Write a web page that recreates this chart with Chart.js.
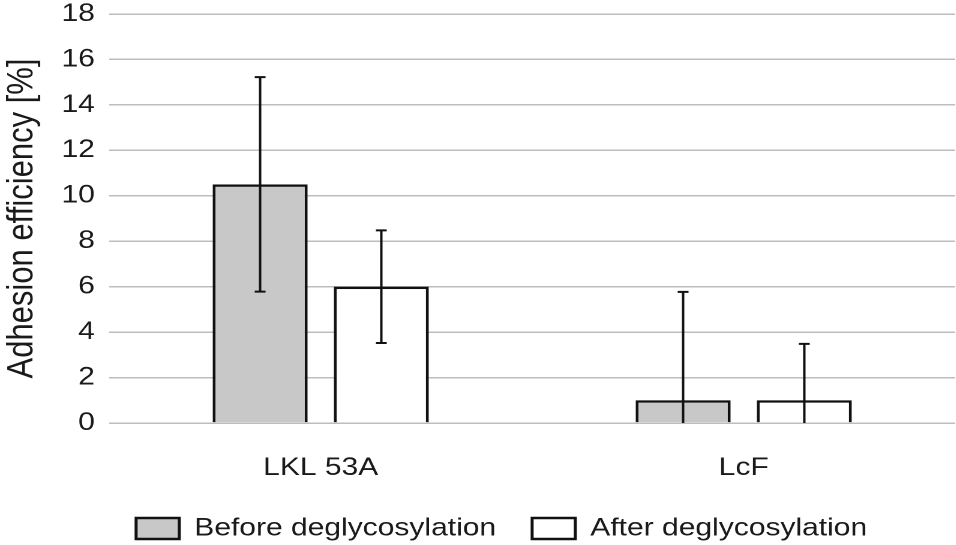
<!DOCTYPE html>
<html>
<head>
<meta charset="utf-8">
<script src="https://cdn.jsdelivr.net/npm/chart.js@4.4.1/dist/chart.umd.min.js"></script>
<style>
  html, body { margin: 0; padding: 0; background: #fff; overflow: hidden; }
  /* the reference is stretched horizontally, so draw narrower and scale up */
  #wrap { width: 797px; height: 545px; transform: scaleX(1.2); transform-origin: 0 0; }
</style>
</head>
<body>
<div id="wrap"><canvas id="chart"></canvas></div>
<script>
// Dados
const categorias = ['LKL 53A', 'LcF'];
const antes = [10.5, 1.0];
const antesErro = [4.72, 4.77];
const depois = [6.0, 1.0];
const depoisErro = [2.48, 2.48];
const ticksY = [0, 2, 4, 6, 8, 10, 12, 14, 16, 18];

const corTexto = '#1a1a1a';
const corGrade = '#bdbdbd';

/**
 * Desenha as barras de erro (desvio padrão) sobre cada barra
 */
const errorBarsPlugin = {
  id: 'errorBars',
  afterDatasetsDraw(chart) {
    const ctx = chart.ctx;
    const y = chart.scales.y;
    chart.data.datasets.forEach((ds, i) => {
      const meta = chart.getDatasetMeta(i);
      meta.data.forEach((bar, j) => {
        const v = ds.data[j];
        const e = ds.erros[j];
        const yTop = y.getPixelForValue(v + e);
        const low = Math.max(0, v - e);
        const yBot = y.getPixelForValue(low);
        ctx.save();
        ctx.strokeStyle = '#111';
        ctx.lineWidth = 2;
        ctx.beginPath();
        ctx.moveTo(bar.x, yTop);
        ctx.lineTo(bar.x, yBot);
        ctx.moveTo(bar.x - 4.5, yTop);
        ctx.lineTo(bar.x + 4.5, yTop);
        if (low > 0) {
          ctx.moveTo(bar.x - 4.5, yBot);
          ctx.lineTo(bar.x + 4.5, yBot);
        }
        ctx.stroke();
        ctx.restore();
      });
    });
  }
};

// Legenda um pouco deslocada para a direita, como no original
const legendShift = {
  id: 'legendShift',
  afterLayout(chart) {
    chart.legend.left += 20;
    chart.legend.right += 20;
  }
};

const ctx = document.getElementById('chart').getContext('2d');
new Chart(ctx, {
  type: 'bar',
  data: {
    labels: categorias,
    datasets: [{
      label: 'Before deglycosylation',
      data: antes,
      erros: antesErro,
      backgroundColor: '#c8c8c8',
      borderColor: '#111',
      borderWidth: 2.5,
      categoryPercentage: 0.573,
      barPercentage: 0.784
    }, {
      label: 'After deglycosylation',
      data: depois,
      erros: depoisErro,
      backgroundColor: '#ffffff',
      borderColor: '#111',
      borderWidth: 2.5,
      categoryPercentage: 0.573,
      barPercentage: 0.784
    }]
  },
  options: {
    responsive: true,
    maintainAspectRatio: false,
    animation: false,
    devicePixelRatio: 2,
    layout: { padding: { top: 0, right: 1, bottom: -6, left: 0 } },
    plugins: {
      tooltip: { enabled: false },
      legend: {
        position: 'bottom',
        labels: {
          color: corTexto,
          font: { family: 'Liberation Sans', size: 25 },
          boxWidth: 36,
          boxHeight: 21,
          padding: 30
        }
      }
    },
    scales: {
      x: {
        grid: { display: false, drawTicks: false },
        border: { display: false },
        ticks: {
          color: corTexto,
          font: { family: 'Liberation Sans', size: 25 },
          padding: 30
        },
        // so o espaco de cima: rotulo + padding
        afterFit(axis) {
          axis.height = 63;
        }
      },
      y: {
        min: 0,
        max: 18,
        afterBuildTicks(axis) {
          axis.ticks = ticksY.map(v => ({ value: v }));
        },
        afterFit(axis) {
          axis.paddingTop = 14;
        },
        grid: { color: corGrade, lineWidth: 1.5, drawTicks: false },
        border: { display: false },
        ticks: {
          color: corTexto,
          font: { family: 'Liberation Sans', size: 25 },
          padding: 12
        },
        title: {
          display: true,
          text: 'Adhesion efficiency [%]',
          color: corTexto,
          font: { family: 'Liberation Sans', size: 31 },
          padding: { top: 0, bottom: 2 }
        }
      }
    }
  },
  plugins: [errorBarsPlugin, legendShift]
});
</script>
</body>
</html>
